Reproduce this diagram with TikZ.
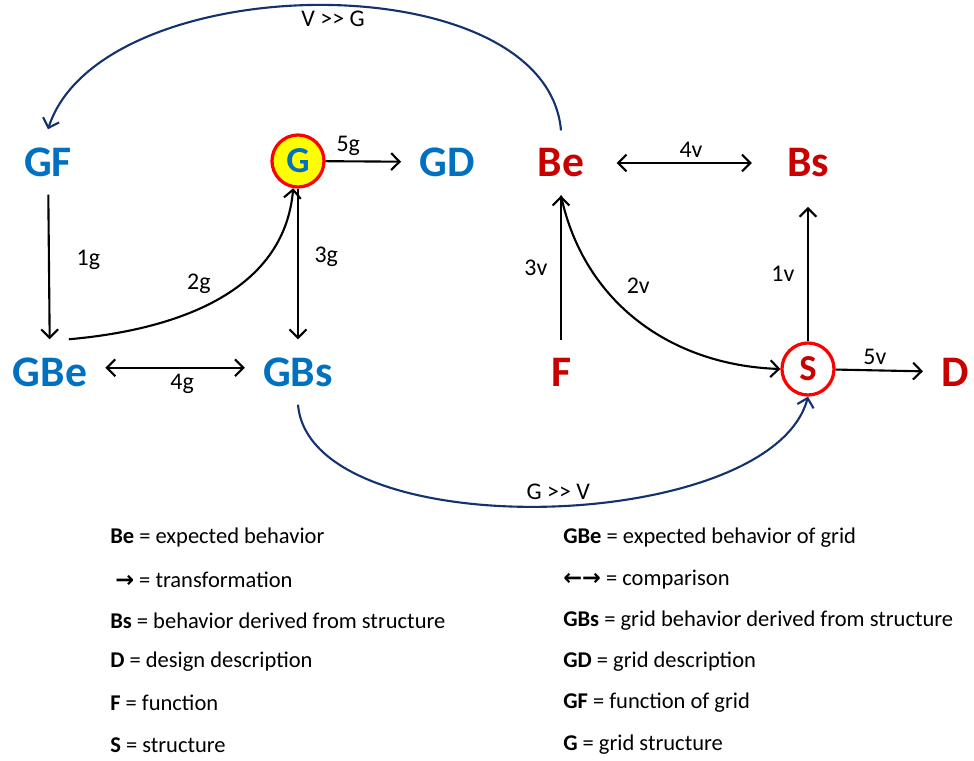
\documentclass[tikz,border=0pt]{standalone}
\usepackage{fontspec}
\setmainfont{Carlito}
\newfontfamily\arrowfont{DejaVu Sans}
\usepackage{xcolor}
\definecolor{GridBlue}    {RGB}{0,  112, 192}
\definecolor{ViewRed}     {RGB}{200,  0,   0}
\definecolor{RingRed}     {RGB}{255,  0,   0}
\definecolor{HubYellow}   {RGB}{255, 255,  0}
\definecolor{LinkNavy}    {RGB}{20,  50, 110}
\usetikzlibrary{
  arrows.meta,
  positioning
}

\begin{document}
\begin{tikzpicture}[
  x=0.025cm, y=-0.025cm,
  gridtxt/.style={
    text=GridBlue,
    font=\fontsize{31}{36}\selectfont\bfseries,
    inner sep=1pt, outer sep=12pt
  },
  viewtxt/.style={
    text=ViewRed,
    font=\fontsize{31}{36}\selectfont\bfseries,
    inner sep=1pt, outer sep=12pt
  },
  hub/.style={
    circle, draw=RingRed,
    line width=2.3pt,
    minimum size=37pt, inner sep=0pt,
    font=\fontsize{26}{30}\selectfont\bfseries
  },
  arrow/.style={
    -{Straight Barb[length=6pt,width=12pt]},
    line width=1.5pt,
    color=black},
  twoway/.style={
    {Straight Barb[length=6pt,width=12pt]}-{Straight Barb[length=6pt,width=12pt]},
    line width=1.5pt,
    color=black},
  link/.style={
    -{Straight Barb[length=6pt,width=12pt]},
    line width=1.5pt,
    color=LinkNavy},
  note/.style={
    font=\fontsize{17}{20}\selectfont,
    text=black,
    inner sep=1pt},
  legend/.style={
    anchor=west,
    font=\fontsize{16}{19}\selectfont,
    inner sep=0pt}
]
\useasboundingbox (0,0) rectangle (974,761);

% grid side
\node[gridtxt] (gf) at (48,162) {GF};
\node[hub, fill=HubYellow, text=GridBlue] (g) at (298,161) {G};
\node[gridtxt] (gd) at (447,162) {GD};
\node[gridtxt] (gbe) at (50,372) {GBe};
\node[gridtxt] (gbs) at (298,372) {GBs};

% view side
\node[viewtxt] (be) at (561,163) {Be};
\node[viewtxt] (bs) at (808,163) {Bs};
\node[viewtxt] (f) at (561,372) {F};
\node[hub, fill=white, text=ViewRed] (s) at (808,369) {S};
\node[viewtxt] (d) at (955,372) {D};

\draw[arrow] (gf) --
  node[note, right=18pt, pos=0.45] {1g} (gbe);
\draw[arrow] (gbe.60) to[out=5, in=-95]
  node[note, above left=4pt, pos=0.5] {2g} (g.-100);
\draw[arrow] (g) --
  node[note, right=10pt, pos=0.45] {3g} (gbs);
\draw[twoway] ([yshift=3pt]gbe.east) --
  node[note, below=3pt, pos=0.55] {4g} ([yshift=3pt]gbs.west);
\draw[arrow] (g) --
  node[note, above=2pt, pos=0.3] {5g} (gd);

\draw[arrow] (s) --
  node[note, left=8pt] {1v} ([yshift=-8pt]bs.south);
\draw[arrow] (be.south) to[out=-78, in=178]
  node[note, above=18pt, pos=0.5] {2v} (s.west);
\draw[arrow] (f) --
  node[note, left=8pt] {3v} (be);
\draw[twoway] ([xshift=10pt]be.east) --
  node[note, above=2pt, pos=0.55] {4v} ([xshift=-12pt]bs.west);
\draw[arrow] (s) --
  node[note, above=2pt, pos=0.45] {5v} (d);

\draw[link] (be.north) to[out=95, in=72, looseness=0.85]
  node[note, below=2pt, pos=0.48] {V >{}> G} (gf.north);
\draw[link] (gbs.south) to[out=-85, in=-105, looseness=0.72]
  node[note, above=3pt, pos=0.52] {G >{}> V} (s.south);

% legend
\node[legend] (l1) at (110,538) {\textbf{Be} = expected behavior};
\node[legend] (l2) at (115,580) {{\arrowfont\bfseries →} = transformation};
\node[legend] (l3) at (110,621) {\textbf{Bs} = behavior derived from structure};
\node[legend] (l4) at (110,662) {\textbf{D} = design description};
\node[legend] (l5) at (110,703) {\textbf{F} = function};
\node[legend] (l6) at (110,745) {\textbf{S} = structure};

\node[legend] (r1) at (563,538) {\textbf{GBe} = expected behavior of grid};
\node[legend] (r2) at (563,580) {{\arrowfont\bfseries ←→} = comparison};
\node[legend] (r3) at (563,621) {\textbf{GBs} = grid behavior derived from structure};
\node[legend] (r4) at (563,662) {\textbf{GD} = grid description};
\node[legend] (r5) at (563,703) {\textbf{GF} = function of grid};
\node[legend] (r6) at (563,745) {\textbf{G} = grid structure};
\end{tikzpicture}
\end{document}
